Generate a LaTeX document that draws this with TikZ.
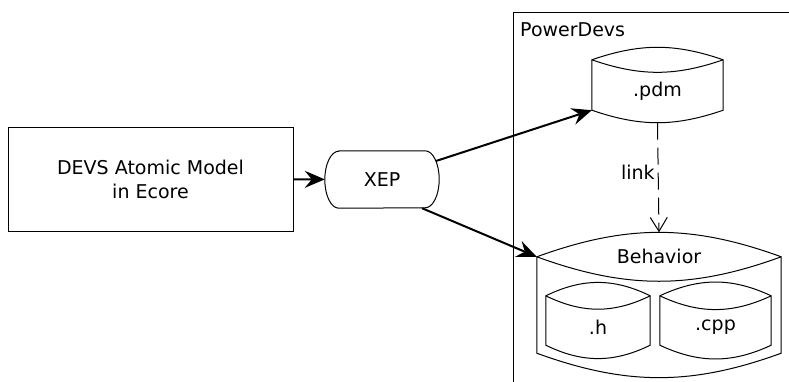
\documentclass[tikz,border=0pt]{standalone}
\usepackage{fontspec}
\setmainfont{DejaVu Sans}
\usepackage{tikz}
\usetikzlibrary{shapes,arrows.meta}
\tikzstyle{box}=[draw,line width=1pt,minimum width=285pt,minimum height=104pt,align=center]
\tikzstyle{proc}=[minimum width=114pt,minimum height=57pt]
\tikzstyle{drum}=[inner sep=0pt]
\tikzstyle{flow}=[line width=2pt,-{Stealth[length=20pt,width=17pt,inset=7pt]}]
\tikzstyle{linkarrow}=[line width=1pt,dash pattern=on 17pt off 8pt,-{Straight Barb[length=14pt,width=17pt]}]

% drum outline round a node: #1 node, #2 rise of the top corners, #3 bend angle
\newcommand{\drumshape}[3]{%
\draw[line width=1pt] ([yshift=#2pt]#1.north west) to[out=#3,in=180-#3] coordinate[pos=.5] (#1-top) ([yshift=#2pt]#1.north east)
    -- (#1.south east) to[out=180+#3,in=-#3] coordinate[pos=.5] (#1-bot) (#1.south west) -- cycle;
\draw[line width=1pt] ([yshift=#2pt]#1.north west) to[out=-#3,in=180+#3] ([yshift=#2pt]#1.north east);
}
% process outline with half-ellipse ends: #1 node, #2 x radius of the ends
\newcommand{\procshape}[2]{%
\draw[line width=1pt] ([xshift=#2pt]#1.north west) -- ([xshift=-#2pt]#1.north east)
    arc[start angle=90,end angle=-90,x radius=#2pt,y radius=28.5pt]
    -- ([xshift=#2pt]#1.south west)
    arc[start angle=270,end angle=90,x radius=#2pt,y radius=28.5pt] -- cycle;
}

\begin{document}
\begin{tikzpicture}[x=1pt,y=1pt,font=\fontsize{19}{24}\selectfont]
\useasboundingbox (0,0) rectangle (789,-381);

\node[box] (model) at (150.5,-179) {DEVS Atomic Model\\in Ecore};
\node[proc] (xep) at (382,-179.5) {XEP};
\procshape{xep}{14}

\node[draw,line width=1pt,anchor=north west,minimum width=400pt,minimum height=420pt] (pd) at (513,-12) {};
\node[anchor=north west,inner sep=7pt,yshift=-3pt] (pdname) at (pd.north west) {PowerDevs};

\node[drum,minimum width=131pt,minimum height=38pt] (pdm) at (657.5,-91) {.pdm};
\node[drum,minimum width=244pt,minimum height=71pt] (beh) at (659,-317.5) {};
\node (behname) at ([yshift=25pt]beh.north) {Behavior};
\node[drum,minimum width=104pt,minimum height=35pt] (h) at (598,-327.5) {.h};
\node[drum,minimum width=111pt,minimum height=35pt] (cpp) at (715.5,-327.5) {.cpp};

\drumshape{pdm}{12}{19}
\drumshape{beh}{25}{20}
\drumshape{h}{14}{26}
\drumshape{cpp}{14}{25}

\draw[flow] (model) -- (xep);
\draw[flow] ([shift={(54pt,18.5pt)}]xep.center) -- (pdm.south west);
\draw[flow] ([xshift=40pt]xep.south) -- ([yshift=25pt]beh.north west);
\draw[linkarrow] (pdm-bot) -- node[left,pos=.45,inner sep=3pt] (linklbl) {link} (beh-top);
\end{tikzpicture}
\end{document}
